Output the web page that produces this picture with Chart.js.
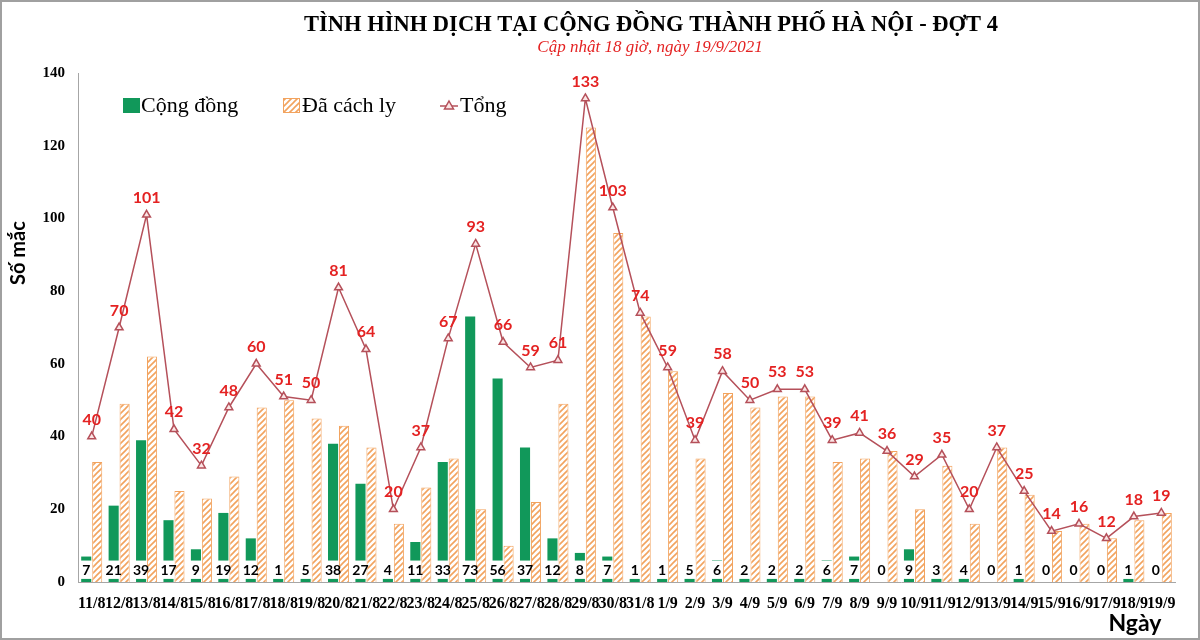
<!DOCTYPE html>
<html>
<head>
<meta charset="utf-8">
<script src="https://cdn.jsdelivr.net/npm/chart.js@4.4.0/dist/chart.umd.min.js"></script>
<style>
  html, body { margin:0; padding:0; background:#fff; }
  #wrap { width:1200px; height:640px; }
</style>
</head>
<body>
<div id="wrap"><canvas id="c" width="1200" height="640"></canvas></div>
<script>
// data
const dates = ["11/8","12/8","13/8","14/8","15/8","16/8","17/8","18/8","19/8","20/8","21/8","22/8","23/8","24/8","25/8","26/8","27/8","28/8","29/8","30/8","31/8",
  "1/9","2/9","3/9","4/9","5/9","6/9","7/9","8/9","9/9","10/9","11/9","12/9","13/9","14/9","15/9","16/9","17/9","18/9","19/9"];
const congDong = [7,21,39,17,9,19,12,1,5,38,27,4,11,33,73,56,37,12,8,7,1,
  1,5,6,2,2,2,6,7,0,9,3,4,0,1,0,0,0,1,0];
const daCachLy = [33,49,62,25,23,29,48,50,45,43,37,16,26,34,20,10,22,49,125,96,73,
  58,34,52,48,51,51,33,34,36,20,32,16,37,24,14,16,12,17,19];
const tong = [40,70,101,42,32,48,60,51,50,81,64,20,37,67,93,66,59,61,133,103,74,
  59,39,58,50,53,53,39,41,36,29,35,20,37,25,14,16,12,18,19];
const yMax = 140, yStep = 20;

const GREEN = "#11985a", ORANGE = "#f2a35e", LINE = "#b5505a", RED = "#e42222";
const SERIF = "'Liberation Serif','Times New Roman',serif";
const SANS = "Lato,'Liberation Sans',sans-serif";

// hatch pattern for "Đã cách ly"
function makeHatch(){
  const p = document.createElement("canvas");
  p.width = 6; p.height = 6;
  const g = p.getContext("2d");
  g.fillStyle = "#fff"; g.fillRect(0,0,6,6);
  g.strokeStyle = ORANGE; g.lineWidth = 1.6;
  g.beginPath();
  g.moveTo(-1,7); g.lineTo(7,-1);
  g.moveTo(-1,1); g.lineTo(1,-1);
  g.moveTo(5,7); g.lineTo(7,5);
  g.stroke();
  return g.createPattern(p, "repeat");
}
const ctx = document.getElementById("c").getContext("2d");
const hatch = makeHatch();

const overlay = {
  id: "overlay",
  afterDatasetsDraw(chart){
    const c = chart.ctx, y = chart.scales.y;
    // white label boxes on community bars
    const m0 = chart.getDatasetMeta(0);
    c.save();
    m0.data.forEach((bar, i) => {
      const top = y.getPixelForValue(5.9), bot = y.getPixelForValue(0.85);
      c.fillStyle = "#fff";
      c.fillRect(bar.x - bar.width/2 - 1, top, bar.width + 2, bot - top);
      c.fillStyle = "#000";
      c.font = "bold 14px " + SANS;
      c.textAlign = "center"; c.textBaseline = "middle";
      c.fillText(String(congDong[i]), bar.x, (top + bot)/2 + 1);
    });
    // total labels
    const m2 = chart.getDatasetMeta(2);
    c.fillStyle = RED;
    c.font = "bold 16px " + SANS;
    c.textAlign = "center"; c.textBaseline = "middle";
    m2.data.forEach((pt, i) => c.fillText(String(tong[i]), pt.x, pt.y - 17));
    c.restore();
  },
  afterDraw(chart){
    const c = chart.ctx;
    c.save();
    c.textBaseline = "middle";
    // title + subtitle
    c.textAlign = "center";
    c.fillStyle = "#000";
    c.font = "bold 22.5px " + SERIF;
    c.fillText("TÌNH HÌNH DỊCH TẠI CỘNG ĐỒNG THÀNH PHỐ HÀ NỘI - ĐỢT 4", 651, 25);
    c.fillStyle = RED;
    c.font = "italic 17px " + SERIF;
    c.fillText("Cập nhật 18 giờ, ngày 19/9/2021", 650, 48);
    // legend
    c.textAlign = "left";
    c.font = "22px " + SERIF;
    c.fillStyle = GREEN; c.fillRect(123, 98, 17, 15);
    c.fillStyle = "#000"; c.fillText("Cộng đồng", 141, 106);
    c.fillStyle = hatch; c.fillRect(283, 98, 17, 15);
    c.strokeStyle = ORANGE; c.lineWidth = 1; c.strokeRect(283.5, 98.5, 16, 14);
    c.fillStyle = "#000"; c.fillText("Đã cách ly", 302, 106);
    c.strokeStyle = LINE; c.lineWidth = 1.5;
    c.beginPath(); c.moveTo(440, 106); c.lineTo(458, 106); c.stroke();
    c.fillStyle = "#fbe5e5";
    c.beginPath(); c.moveTo(449, 101); c.lineTo(453.5, 109); c.lineTo(444.5, 109); c.closePath();
    c.fill(); c.stroke();
    c.fillStyle = "#000"; c.fillText("Tổng", 460, 106);
    // axis titles
    c.font = "bold 23px " + SANS;
    c.textAlign = "center";
    c.fillText("Ngày", 1135, 624);
    c.save();
    c.translate(19, 253); c.rotate(-Math.PI/2);
    c.font = "bold 20px " + SANS;
    c.fillText("Số mắc", 0, 0);
    c.restore();
    // frame
    c.strokeStyle = "#a0a0a0"; c.lineWidth = 2;
    c.strokeRect(1, 1, 1198, 638);
    c.restore();
  }
};

new Chart(ctx, {
  data: {
    labels: dates,
    datasets: [
      { type: "bar", label: "Cộng đồng", data: congDong, backgroundColor: GREEN,
        categoryPercentage: 0.8, barPercentage: 0.92, order: 1 },
      { type: "bar", label: "Đã cách ly", data: daCachLy, backgroundColor: hatch,
        borderColor: ORANGE, borderWidth: 1, categoryPercentage: 0.8, barPercentage: 0.92, order: 1 },
      { type: "line", label: "Tổng", data: tong, borderColor: LINE, borderWidth: 1.5,
        pointStyle: "triangle", pointRadius: 4.5, pointBorderWidth: 1.5,
        pointBackgroundColor: "#fbe5e5", pointBorderColor: LINE, tension: 0, order: 0 }
    ]
  },
  options: {
    responsive: false,
    devicePixelRatio: 1,
    animation: false,
    layout: { padding: { top: 73, right: 25, left: 0, bottom: 0 } },
    plugins: { legend: { display: false }, tooltip: { enabled: false }, title: { display: false } },
    scales: {
      x: {
        grid: { display: false },
        border: { color: "#a6a6a6" },
        ticks: { autoSkip: false, maxRotation: 0, minRotation: 0, padding: 4, color: "#000",
          font: { family: SERIF, size: 16, weight: "bold" } },
        afterFit(s){ s.height = 58; }
      },
      y: {
        min: 0, max: yMax,
        grid: { display: false },
        border: { color: "#a6a6a6" },
        ticks: { stepSize: yStep, padding: 5, color: "#000",
          font: { family: SERIF, size: 15, weight: "bold" } },
        afterFit(s){ s.width = 78; }
      }
    }
  },
  plugins: [overlay]
});
</script>
</body>
</html>
